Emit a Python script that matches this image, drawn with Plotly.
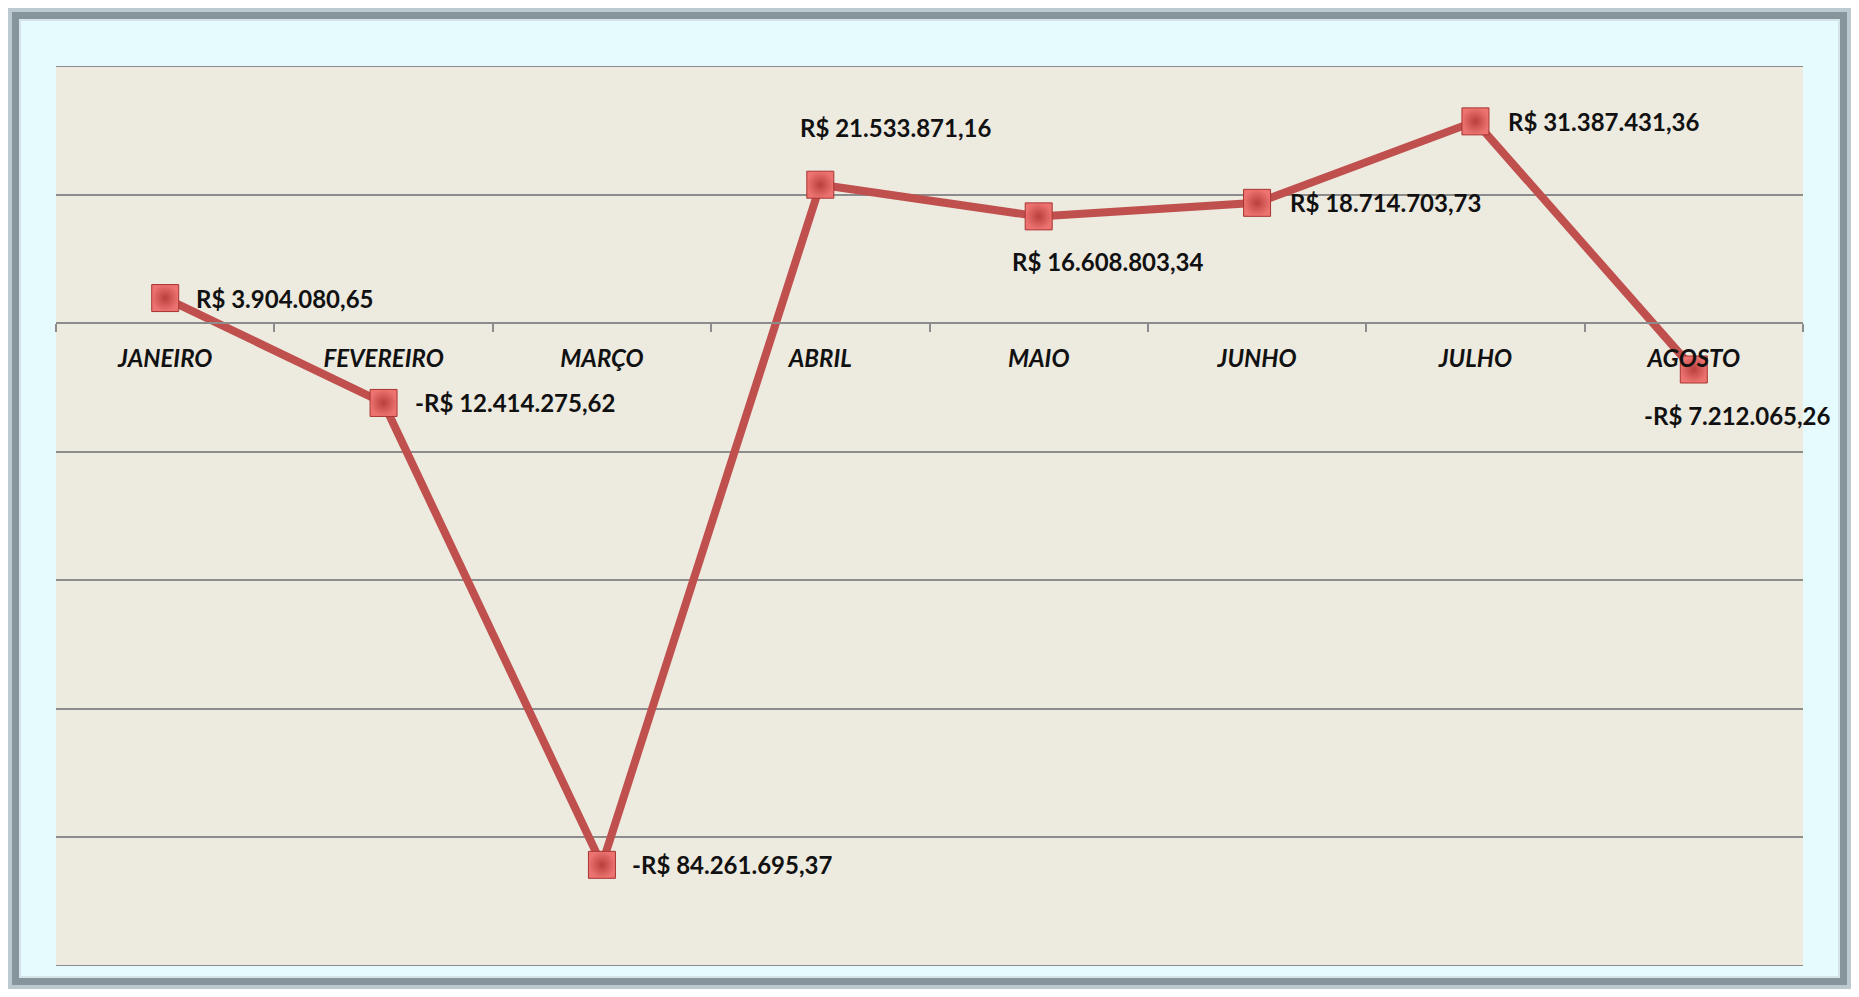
import plotly.graph_objects as go

# Monthly result (R$)
months = ["JANEIRO", "FEVEREIRO", "MARÇO", "ABRIL", "MAIO", "JUNHO", "JULHO", "AGOSTO"]
values = [3904080.65, -12414275.62, -84261695.37, 21533871.16,
          16608803.34, 18714703.73, 31387431.36, -7212065.26]
labels = ["R$ 3.904.080,65", "-R$ 12.414.275,62", "-R$ 84.261.695,37", "R$ 21.533.871,16",
          "R$ 16.608.803,34", "R$ 18.714.703,73", "R$ 31.387.431,36", "-R$ 7.212.065,26"]

Y_MIN, Y_MAX, Y_STEP = -100_000_000, 40_000_000, 20_000_000

RED = "#C0504D"
FONT = "Lato"
GRID = "#8C8C8C"

# label placement: (xanchor, xshift, yshift)
label_pos = [
    ("left", 29, 0),
    ("left", 29, 0),
    ("left", 28, 0),
    ("center", 75, 57),
    ("center", 69, -45),
    ("left", 31, 0),
    ("left", 31, 0),
    ("center", 44, -46),
]

# page has an 8px body margin, so the figure is a bit smaller than the window
W, H = 1843, 981
M_L, M_R, M_T, M_B = 48, 48, 58, 23

fig = go.Figure()

fig.add_trace(
    go.Scatter(
        x=months,
        y=values,
        mode="lines+markers",
        line=dict(color=RED, width=8),
        marker=dict(
            symbol="square",
            size=27,
            color="#EC736F",
            gradient=dict(type="radial", color="#B8403C"),
            line=dict(color="#A83532", width=1),
        ),
        showlegend=False,
        hoverinfo="skip",
    )
)

for m, v, t, (xa, xs, ys) in zip(months, values, labels, label_pos):
    fig.add_annotation(
        x=m, y=v, text=t, showarrow=False,
        xanchor=xa, yanchor="middle", xshift=xs, yshift=ys,
        font=dict(family=FONT, size=24, color="#111111", weight="bold"),
    )

# top / bottom border lines of the plot area
for yv in (Y_MIN, Y_MAX):
    fig.add_shape(type="line", xref="paper", yref="y", x0=0, x1=1, y0=yv, y1=yv,
                  line=dict(color=GRID, width=2))

# outer frame (decoration)
pw = W - M_L - M_R
ph = H - M_T - M_B
def px_x(p):
    return (p - M_L) / pw
def px_y(p):
    return (H - M_B - p) / ph

def frame(inset, color, width):
    fig.add_shape(type="rect", xref="paper", yref="paper",
                  x0=px_x(inset), x1=px_x(W - inset), y0=px_y(H - inset), y1=px_y(inset),
                  line=dict(color=color, width=width), fillcolor="rgba(0,0,0,0)")

frame(2, "#BCCAD0", 5)
frame(7.5, "#86959B", 7)
frame(12, "#D6E4E8", 2)

zero_pos = (0 - Y_MIN) / (Y_MAX - Y_MIN)

fig.update_layout(
    width=W, height=H,
    margin=dict(l=M_L, r=M_R, t=M_T, b=M_B, autoexpand=False),
    paper_bgcolor="#E6FBFE",
    plot_bgcolor="#EDEAE0",
    xaxis=dict(
        range=[-0.5, len(months) - 0.5],
        anchor="free", position=zero_pos, automargin=False,
        showgrid=False, zeroline=False,
        showline=True, linecolor=GRID, linewidth=2,
        ticks="outside", tickson="boundaries", ticklen=8, tickcolor=GRID, tickwidth=2,
        ticklabelstandoff=14,
        tickfont=dict(family=FONT, size=24, color="#111111", weight="bold", style="italic"),
        fixedrange=True,
    ),
    yaxis=dict(
        range=[Y_MIN, Y_MAX], dtick=Y_STEP, tick0=0, automargin=False,
        showticklabels=False, ticks="",
        showgrid=True, gridcolor=GRID, gridwidth=1.5,
        zeroline=False, showline=False,
        fixedrange=True,
    ),
)

fig.write_html("out.html")
